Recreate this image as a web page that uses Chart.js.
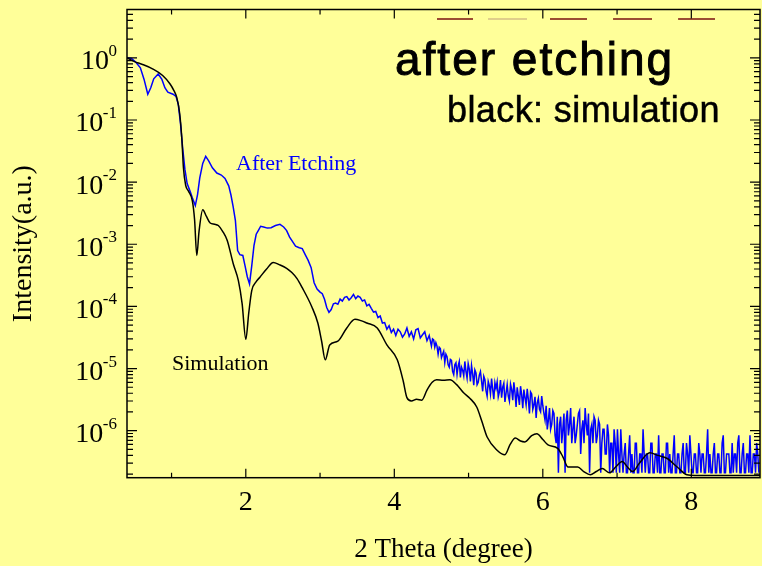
<!DOCTYPE html>
<html><head><meta charset="utf-8">
<script src="https://cdn.jsdelivr.net/npm/chart.js@4.4.1/dist/chart.umd.min.js"></script>
<style>html,body{margin:0;padding:0;background:#ffff99;overflow:hidden}</style>
</head><body>
<canvas id="c" width="762" height="566"></canvas>
<script>
// ---- data ----
const simX = [0.40,0.50,0.60,0.75,0.88,0.98,1.03,1.07,1.11,1.14,1.16,1.19,1.23,1.28,1.31,1.34,1.37,1.42,1.47,1.52,1.58,1.63,1.69,1.75,1.83,1.90,1.95,2.00,2.04,2.08,2.14,2.19,2.28,2.37,2.45,2.55,2.62,2.69,2.76,2.89,2.97,3.02,3.07,3.13,3.24,3.36,3.47,3.55,3.63,3.77,3.90,4.04,4.12,4.17,4.23,4.30,4.37,4.44,4.51,4.57,4.66,4.75,4.84,4.93,5.02,5.11,5.18,5.25,5.38,5.49,5.56,5.63,5.70,5.76,5.85,5.92,6.00,6.07,6.20,6.27,6.34,6.47,6.55,6.64,6.72,6.80,6.90,6.98,7.07,7.14,7.21,7.30,7.44,7.55,7.67,7.81,7.94,8.05,8.93];
const simY = [1.0,0.87,0.79,0.66,0.52,0.38,0.30,0.23,0.126,0.047,0.017,0.0089,0.0071,0.0050,0.0025,0.00066,0.0016,0.0036,0.0028,0.0022,0.0021,0.0020,0.0016,0.00115,0.00049,0.00026,0.000112,2.95e-5,7.9e-5,1.8e-4,2.5e-4,2.95e-4,4.0e-4,5.1e-4,4.7e-4,4.1e-4,3.5e-4,2.8e-4,2.0e-4,9.8e-5,5.4e-5,2.8e-5,1.38e-5,2.4e-5,2.75e-5,4.5e-5,6.2e-5,5.9e-5,5.4e-5,4.5e-5,2.4e-5,1.38e-5,6.3e-6,3.4e-6,3.0e-6,3.2e-6,3.1e-6,4.5e-6,6.0e-6,6.6e-6,6.5e-6,6.6e-6,5.5e-6,4.1e-6,3.3e-6,2.4e-6,1.4e-6,7.9e-7,4.9e-7,4.1e-7,6.0e-7,7.6e-7,6.8e-7,6.6e-7,8.3e-7,8.9e-7,7.2e-7,5.9e-7,5.2e-7,3.8e-7,2.6e-7,2.6e-7,2.2e-7,1.95e-7,2.2e-7,2.45e-7,2.1e-7,2.6e-7,3.2e-7,2.6e-7,2.2e-7,3.0e-7,4.4e-7,4.0e-7,3.6e-7,2.6e-7,1.95e-7,1.9e-7,1.9e-7];

const etchX = [0.40,0.46,0.52,0.58,0.63,0.68,0.72,0.76,0.82,0.87,0.91,0.95,1.02,1.06,1.09,1.12,1.15,1.18,1.21,1.25,1.28,1.32,1.35,1.38,1.42,1.46,1.50,1.55,1.61,1.67,1.72,1.77,1.80,1.83,1.86,1.89,1.92,1.96,1.99,2.02,2.05,2.08,2.11,2.14,2.17,2.20,2.24,2.29,2.34,2.40,2.46,2.51,2.55,2.59,2.63,2.67,2.72,2.76,2.80,2.84,2.88,2.92,2.96,3.00,3.03,
3.06,3.09,3.12,3.15,3.18,3.21,3.24,3.27,3.30,3.33,3.36,3.39,3.42,3.45,3.48,3.51,3.54,3.57,3.60,3.63,3.66,3.69,3.72,3.75,3.78,3.81,3.84,3.87,3.90,3.93,3.96,3.99,
4.02,4.05,4.08,4.11,4.14,4.17,4.20,4.23,4.26,4.29,4.32,4.35,4.38,4.41,4.44,4.47,
4.50,4.515,4.53,4.545,4.56,4.575,4.59,4.605,4.62,4.635,4.65,4.665,4.68,4.695,4.71,4.725,4.74,4.755,4.77,4.785,4.80,4.815,4.83,4.845,4.86,4.875,4.89,4.905,4.92,4.935,4.95,4.965,4.98,4.995,
5.01,5.025,5.04,5.055,5.07,5.085,5.10,5.115,5.13,5.145,5.16,5.175,5.19,5.205,5.22,5.235,5.25,5.265,5.28,5.295,5.31,5.325,5.34,5.355,5.37,5.385,5.40,5.415,5.43,5.445,5.46,5.475,5.49,5.505,5.52,5.535,5.55,5.565,5.58,5.595,5.61,5.625,5.64,5.655,5.67,5.685,5.70,5.715,5.73,5.745,5.76,5.775,5.79,5.805,5.82,5.835,5.85,5.865,5.88,5.895,5.91,5.925,5.94,5.955,5.97,5.985,
6.00,6.015,6.03,6.045,6.06,6.075,6.09,6.105,6.12,6.135,6.15,6.165,6.18,6.195,6.21,6.225,6.24,6.255,6.27,6.285,6.30,6.315,6.33,6.345,6.36,6.375,6.39,6.405,6.42,6.435,6.45,6.465,6.48,6.495,6.51,6.525,6.54,6.555,6.57,6.585,6.60,6.615,6.63,6.645,6.66,6.675,6.69,6.705,6.72,6.735,6.75,6.765,6.78,6.795,6.81,6.825,6.84,6.855,6.87,6.885,6.90,6.915,6.93,6.945,6.96,6.975,6.99,7.005,
7.02,7.035,7.05,7.065,7.08,7.095,7.11,7.125,7.14,7.155,7.17,7.185,7.2,7.215,7.23,7.245,7.26,7.275,7.29,7.305,7.32,7.335,7.35,7.365,7.38,7.395,7.41,7.425,7.44,7.455,7.47,7.485,7.5,7.515,7.53,7.545,7.56,7.575,7.59,7.605,7.62,7.635,7.65,7.665,7.68,7.695,7.71,7.725,7.74,7.755,7.77,7.785,7.8,7.815,7.83,7.845,7.86,7.875,7.89,7.905,7.92,7.935,7.95,7.965,7.98,7.995,
8.01,8.025,8.04,8.055,8.07,8.085,8.1,8.115,8.13,8.145,8.16,8.175,8.19,8.205,8.22,8.235,8.25,8.265,8.28,8.295,8.31,8.325,8.34,8.355,8.37,8.385,8.4,8.415,8.43,8.445,8.46,8.475,8.49,8.505,8.52,8.535,8.55,8.565,8.58,8.595,8.61,8.625,8.64,8.655,8.67,8.685,8.7,8.715,8.73,8.745,8.76,8.775,8.79,8.805,8.82,8.835,8.85,8.865,8.88,8.895,8.91];
const etchY = [1.0,0.98,0.85,0.69,0.45,0.26,0.33,0.46,0.55,0.45,0.33,0.28,0.26,0.24,0.18,0.089,0.035,0.016,0.0095,0.0071,0.0056,0.0042,0.0063,0.0117,0.020,0.026,0.022,0.017,0.014,0.013,0.0115,0.0087,0.0062,0.0040,0.0024,0.00079,0.00068,0.00066,0.00045,0.00030,0.00023,0.00045,0.00095,0.00145,0.00168,0.00195,0.00190,0.00182,0.00185,0.00200,0.00209,0.00190,0.00166,0.00130,0.00110,0.00093,0.00088,0.00085,0.00068,0.00055,0.00042,0.00024,0.00019,0.000170,0.000160,
1.30e-4,9.6e-5,8.0e-5,8.9e-5,1.10e-4,1.13e-4,1.08e-4,1.31e-4,1.22e-4,1.40e-4,1.44e-4,1.27e-4,1.38e-4,1.56e-4,1.33e-4,1.47e-4,1.40e-4,1.22e-4,1.27e-4,1.02e-4,1.08e-4,9.3e-5,8.1e-5,8.3e-5,6.6e-5,7.0e-5,5.4e-5,5.5e-5,4.3e-5,4.9e-5,3.8e-5,4.3e-5,
3.4e-5,4.3e-5,3.9e-5,3.2e-5,3.6e-5,4.5e-5,3.3e-5,3.9e-5,3.0e-5,4.2e-5,4.4e-5,3.1e-5,3.5e-5,3.9e-5,2.8e-5,3.4e-5,
2.3e-5,3.0e-5,2.9e-5,2.2e-5,2.6e-5,2.3e-5,1.7e-5,2.2e-5,2.1e-5,1.5e-5,1.7e-5,1.9e-5,1.25e-5,1.7e-5,1.55e-5,1.15e-5,1.05e-5,1.4e-5,1.35e-5,9.0e-6,8.0e-6,1.15e-5,1.24e-5,8.0e-6,1.1e-5,1.3e-5,7.2e-6,1.05e-5,9.4e-6,7.6e-6,1.3e-5,9.0e-6,7.0e-6,1.2e-5,
9.8e-6,6.2e-6,1.12e-5,8.2e-6,5.4e-6,9.5e-6,8.5e-6,5.5e-6,6.0e-6,7.8e-6,8.9e-6,6.3e-6,4.3e-6,7.5e-6,6.6e-6,4.4e-6,3.6e-6,6.2e-6,5.3e-6,3.9e-6,6.9e-6,4.6e-6,3.2e-6,5.9e-6,4.8e-6,6.1e-6,3.5e-6,4.2e-6,6.5e-6,3.4e-6,5.0e-6,5.8e-6,2.9e-6,4.0e-6,5.5e-6,3.6e-6,3.0e-6,5.6e-6,4.6e-6,3.1e-6,6.0e-6,4.1e-6,2.4e-6,5.0e-6,3.6e-6,2.6e-6,5.2e-6,3.8e-6,2.3e-6,4.6e-6,3.4e-6,2.6e-6,4.7e-6,3.2e-6,1.9e-6,4.2e-6,3.9e-6,2.2e-6,2.6e-6,3.5e-6,1.6e-6,2.8e-6,3.3e-6,2.2e-6,2.0e-6,3.6e-6,
2.52e-6,1.89e-6,1.47e-6,2.52e-6,1.05e-6,1.47e-6,2.31e-6,1.05e-6,1.26e-6,2.1e-6,1.89e-6,8.4e-7,6.3e-7,1.68e-6,2.1e-7,1.26e-6,1.68e-6,6.3e-7,1.05e-6,1.89e-6,2.1e-7,1.47e-6,2.1e-6,8.4e-7,1.26e-6,2.31e-6,6.3e-7,1.05e-6,1.68e-6,6.3e-7,8.4e-7,1.26e-6,1.89e-6,2.1e-6,4.2e-7,1.05e-6,1.47e-6,6.3e-7,2.31e-6,1.26e-6,8.4e-7,1.89e-6,2.1e-7,1.05e-6,1.26e-6,6.3e-7,1.68e-6,1.47e-6,6.3e-7,8.4e-7,1.47e-6,1.26e-6,2.1e-7,6.3e-7,1.05e-6,1.05e-6,4.2e-7,4.2e-7,1.26e-6,8.4e-7,2.1e-7,6.3e-7,6.3e-7,2.1e-7,1.05e-6,6.3e-7,2.1e-7,1.05e-6,
4.2e-7,2.1e-7,1.05e-6,4.2e-7,2.1e-7,4.2e-7,6.3e-7,2.1e-7,2.1e-7,4.2e-7,
8.4e-7,2.1e-7,4.2e-7,2.1e-7,2.1e-7,6.3e-7,6.3e-7,2.1e-7,2.1e-7,4.2e-7,
4.2e-7,2.1e-7,1.05e-6,4.2e-7,2.1e-7,4.2e-7,4.2e-7,2.1e-7,2.1e-7,6.3e-7,
6.3e-7,2.1e-7,2.1e-7,4.2e-7,4.2e-7,2.1e-7,8.4e-7,2.1e-7,2.1e-7,4.2e-7,
4.2e-7,2.1e-7,2.1e-7,6.3e-7,6.3e-7,2.1e-7,4.2e-7,2.1e-7,2.1e-7,4.2e-7,
8.4e-7,2.1e-7,2.1e-7,4.2e-7,4.2e-7,2.1e-7,2.1e-7,4.2e-7,6.3e-7,2.1e-7,
2.1e-7,6.3e-7,4.2e-7,2.1e-7,8.4e-7,4.2e-7,2.1e-7,2.1e-7,4.2e-7,4.2e-7,
2.1e-7,2.1e-7,6.3e-7,4.2e-7,2.1e-7,4.2e-7,4.2e-7,2.1e-7,2.1e-7,4.2e-7,
1.05e-6,2.1e-7,4.2e-7,2.1e-7,2.1e-7,4.2e-7,6.3e-7,2.1e-7,2.1e-7,4.2e-7,
4.2e-7,2.1e-7,2.1e-7,6.3e-7,8.4e-7,2.1e-7,2.1e-7,4.2e-7,4.2e-7,4.2e-7,
2.1e-7,2.1e-7,6.3e-7,2.1e-7,4.2e-7,4.2e-7,2.1e-7,6.3e-7,8.4e-7,2.1e-7,
2.1e-7,4.2e-7,6.3e-7,2.1e-7,2.1e-7,4.2e-7,4.2e-7,2.1e-7,8.4e-7,2.1e-7,
2.1e-7,4.2e-7,4.2e-7,2.1e-7,6.3e-7,4.2e-7,2.1e-7];

// short dark-red dashes along the top of the frame
const dashX = [4.575,5.06,null,5.262,5.787,null,6.097,6.595,null,6.946,7.471,null,7.822,8.319];
const dashY = [4.2,4.2,null,4.2,4.2,null,4.2,4.2,null,4.2,4.2,null,4.2,4.2];

const xTickLabels = [2,4,6,8];
const xMinorTicks = [1,3,5,7];
const yTickExponents = [0,-1,-2,-3,-4,-5,-6];

// ---- plugins ----
const bgPlugin = {
  id: 'bg',
  beforeDraw(chart) {
    const c = chart.ctx;
    c.save(); c.fillStyle = '#ffff99'; c.fillRect(0, 0, chart.width, chart.height); c.restore();
  }
};

const framePlugin = {
  id: 'frame',
  afterDraw(chart) {
    const c = chart.ctx, a = chart.chartArea, xs = chart.scales.x, ys = chart.scales.y;
    c.save();
    c.strokeStyle = '#000';
    c.lineWidth = 1.5;
    c.strokeRect(a.left, a.top, a.right - a.left, a.bottom - a.top);
    c.lineWidth = 1.2;
    c.beginPath();
    const xt = (v, len) => {
      const p = xs.getPixelForValue(v);
      c.moveTo(p, a.bottom); c.lineTo(p, a.bottom - len);
      c.moveTo(p, a.top); c.lineTo(p, a.top + len);
    };
    xTickLabels.forEach(v => xt(v, 9));
    xMinorTicks.forEach(v => xt(v, 5));
    for (let k = -7; k <= 0; k++) {
      for (let m = 1; m <= 9; m++) {
        const v = m * Math.pow(10, k);
        if (v < ys.min || v > ys.max) continue;
        const p = ys.getPixelForValue(v);
        const len = m === 1 ? 10 : 6;
        c.moveTo(a.left, p); c.lineTo(a.left + len, p);
        c.moveTo(a.right, p); c.lineTo(a.right - len, p);
      }
    }
    c.stroke();

    // y tick labels 10^n
    c.fillStyle = '#000';
    c.textAlign = 'right';
    c.textBaseline = 'alphabetic';
    yTickExponents.forEach(e => {
      const p = ys.getPixelForValue(Math.pow(10, e));
      const ex = String(e);
      c.font = '17px "Liberation Serif"';
      const w = c.measureText(ex).width;
      c.fillText(ex, 117, p - 2);
      c.font = '28px "Liberation Serif"';
      c.fillText('10', 117 - w + 0.5, p + 11.5);
    });

    // annotations
    c.textAlign = 'left';
    c.fillStyle = '#000';
    c.strokeStyle = '#000';
    c.font = '46px "Liberation Sans"';
    c.letterSpacing = '2px';
    c.lineWidth = 1;
    c.fillText('after etching', 395, 75);
    c.strokeText('after etching', 395, 75);
    c.letterSpacing = '0.4px';
    c.font = '36px "Liberation Sans"';
    c.lineWidth = 0.5;
    c.fillText('black: simulation', 447, 122);
    c.strokeText('black: simulation', 447, 122);
    c.letterSpacing = '0px';
    c.font = '22px "Liberation Serif"';
    c.fillStyle = '#0000ff';
    c.fillText('After Etching', 236, 170);
    c.fillStyle = '#000';
    c.fillText('Simulation', 172, 370);
    c.restore();
  }
};

new Chart(document.getElementById('c'), {
  type: 'line',
  data: {
    datasets: [
      {
        label: 'Simulation',
        data: simX.map((x, i) => ({x, y: simY[i]})),
        borderColor: '#000000', borderWidth: 1.5, pointRadius: 0,
        cubicInterpolationMode: 'monotone', fill: false
      },
      {
        label: 'After Etching',
        data: etchX.map((x, i) => ({x, y: etchY[i]})),
        borderColor: '#0000ff', borderWidth: 1.5, pointRadius: 0,
        tension: 0, fill: false
      },
      {
        label: 'dashes',
        data: dashX.map((x, i) => ({x: x === null ? dashX[i-1] + 0.05 : x, y: dashY[i]})),
        borderColor: '#7a1010', borderWidth: 1.5, pointRadius: 0, spanGaps: false,
        segment: { borderColor: ctx => ctx.p0DataIndex === 3 ? '#d6bf86' : '#7a1010' }
      }
    ]
  },
  options: {
    responsive: false,
    devicePixelRatio: 1,
    animation: false,
    layout: { padding: { top: 9.5, right: 2, left: 0, bottom: 0 } },
    plugins: { legend: { display: false }, tooltip: { enabled: false } },
    scales: {
      x: {
        type: 'linear', min: 0.4, max: 8.925,
        afterBuildTicks: s => { s.ticks = xTickLabels.map(v => ({value: v})); },
        afterFit: s => { s.height = 88.3; },
        grid: { display: false, drawTicks: false },
        border: { display: false },
        ticks: { color: '#000', font: { family: 'Liberation Serif', size: 28 }, padding: 8, maxRotation: 0 },
        title: { display: true, text: '2 Theta (degree)', color: '#000',
                 font: { family: 'Liberation Serif', size: 27 }, padding: { top: 0, bottom: 0 } }
      },
      y: {
        type: 'logarithmic', min: 1.75e-7, max: 6.0,
        afterFit: s => { s.width = 127; },
        grid: { display: false, drawTicks: false },
        border: { display: false },
        ticks: { display: false },
        title: { display: true, text: 'Intensity(a.u.)', color: '#000',
                 font: { family: 'Liberation Serif', size: 28 }, padding: { top: 7, bottom: 0 } }
      }
    }
  },
  plugins: [bgPlugin, framePlugin]
});
</script>
</body></html>
